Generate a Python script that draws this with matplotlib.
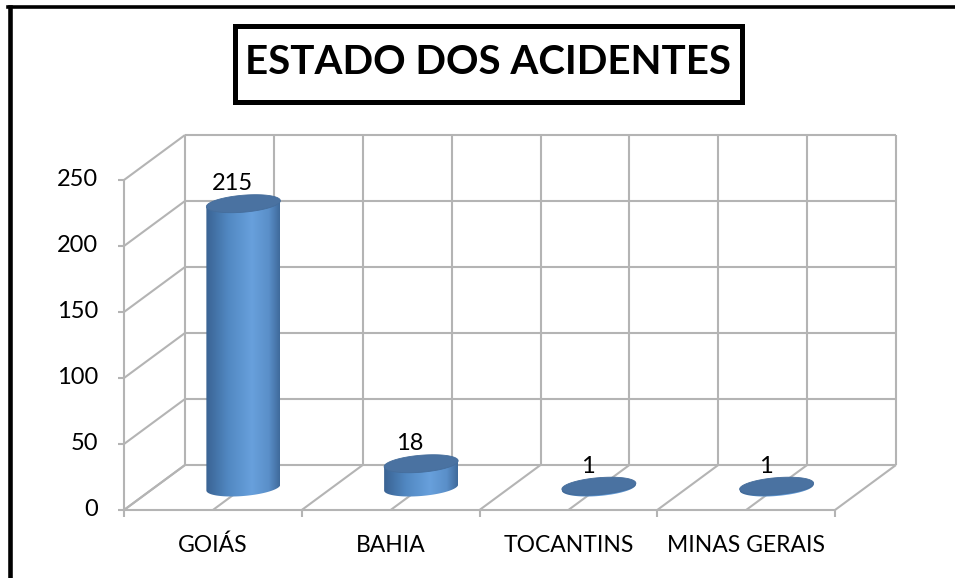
import numpy as np
import matplotlib.pyplot as plt
import matplotlib.transforms as mtransforms
from matplotlib.lines import Line2D
from matplotlib.patches import Polygon, Rectangle
from matplotlib.colors import LinearSegmentedColormap

estados = ["GOIÁS", "BAHIA", "TOCANTINS", "MINAS GERAIS"]
acidentes = [215, 18, 1, 1]
y_ticks = [0, 50, 100, 150, 200, 250]
titulo = "ESTADO DOS ACIDENTES"

plt.rcParams['font.family'] = ['Lato', 'DejaVu Sans']

W, H = 955, 578
fig = plt.figure(figsize=(W / 100, H / 100), dpi=100)
ident = mtransforms.IdentityTransform()

# frente da caixa 3d (pixels)
x0, x1 = 124, 835
yb, yt = 510, 180
ax = fig.add_axes([x0 / W, 1 - yb / H, (x1 - x0) / W, (yb - yt) / H])
n = len(estados)
ax.set_xlim(0, n)
ax.set_ylim(0, y_ticks[-1])
ax.set_autoscale_on(False)
ax.axis('off')

# profundidade da parede do fundo
dx, dy = 61, 45


def proj(x, v, d=0.0):
    px, py = ax.transData.transform((x, v))
    return px + dx * d, py + dy * d


def seg(p, q, color='#b4b4b4', lw=1.5, z=1):
    ax.add_line(Line2D([p[0], q[0]], [p[1], q[1]], transform=ident, color=color,
                       lw=lw, clip_on=False, zorder=z, solid_capstyle='butt'))


# grade: parede do fundo, parede esquerda, chao
for v in y_ticks:
    seg(proj(0, v, 1), proj(n, v, 1))
    seg(proj(0, v, 0), proj(0, v, 1))
    px, py = proj(0, v, 0)
    seg((px - 6, py), (px, py))
    ax.text(px - 26, py, str(v), transform=ident, ha='right', va='center', fontsize=17)
for x in np.arange(0, n + 0.01, 0.5):
    seg(proj(x, 0, 1), proj(x, y_ticks[-1], 1))
    seg(proj(x, 0, 0), proj(x, 0, 1))
seg(proj(0, 0, 0), proj(n, 0, 0))
seg(proj(0, 0, 0), proj(0, y_ticks[-1], 0))
for i in range(n + 1):
    px, py = proj(i, 0, 0)
    seg((px, py), (px, py - 7))
for i, nome in enumerate(estados):
    px, py = proj(i + 0.5, 0, 0)
    ax.text(px, py - 35, nome, transform=ident, ha='center', va='center', fontsize=16.5)

# cilindros
cmap = LinearSegmentedColormap.from_list('cil', [
    (0.0, '#3a6393'), (0.3, '#5188c2'), (0.62, '#68a0dc'),
    (0.85, '#5a8fc9'), (1.0, '#3f6a9b')])
grad = np.linspace(0, 1, 256)[None, :]
a, b, k = 37, 8.5, 0.08
t = np.linspace(0, 2 * np.pi, 120)
tb = np.linspace(np.pi, 2 * np.pi, 60)
for i, val in enumerate(acidentes):
    cx, y0 = proj(i + 0.5, 0, 0.5)
    _, y1 = proj(i + 0.5, val, 0.5)
    bx = cx + a * np.cos(tb)
    by = y0 + b * np.sin(tb) + k * a * np.cos(tb)
    body = np.vstack([[cx - a, y1 - k * a], np.column_stack([bx, by]),
                      [cx + a, y1 + k * a]])
    poly = Polygon(body, closed=True, transform=ident, facecolor='none',
                   edgecolor='none')
    ax.add_patch(poly)
    im = ax.imshow(grad, cmap=cmap, aspect='auto', transform=ident,
                   extent=(cx - a, cx + a, y0 - b - k * a - 2, y1 + k * a + 2),
                   zorder=3, interpolation='bilinear')
    im.set_clip_path(poly)
    ex = cx + a * np.cos(t)
    ey = y1 + b * np.sin(t) + k * a * np.cos(t)
    ax.add_patch(Polygon(np.column_stack([ex, ey]), closed=True, transform=ident,
                         facecolor='#4a72a1', edgecolor='#456d9b', lw=0.6,
                         zorder=4, clip_on=False))
    ax.text(cx - 11, y1 + 20, str(val), transform=ident, ha='center', va='center',
            fontsize=17, zorder=5)

# titulo com moldura
fig.add_artist(Rectangle((234.5, H - 102), 742 - 234.5, 102 - 25.5, transform=ident,
                         facecolor='white', edgecolor='black', lw=3.6))
fig.text(488, H - 63, titulo, transform=ident, ha='center', va='center',
         fontsize=29, fontweight='bold')

# borda da figura (esquerda e topo)
fig.add_artist(Line2D([10.3, 10.3], [0, H - 6.5], transform=ident, color='black', lw=3.3))
fig.add_artist(Line2D([8, W], [H - 6.5, H - 6.5], transform=ident, color='black', lw=2.6))

fig.savefig('out.png', dpi=100, facecolor='white')
